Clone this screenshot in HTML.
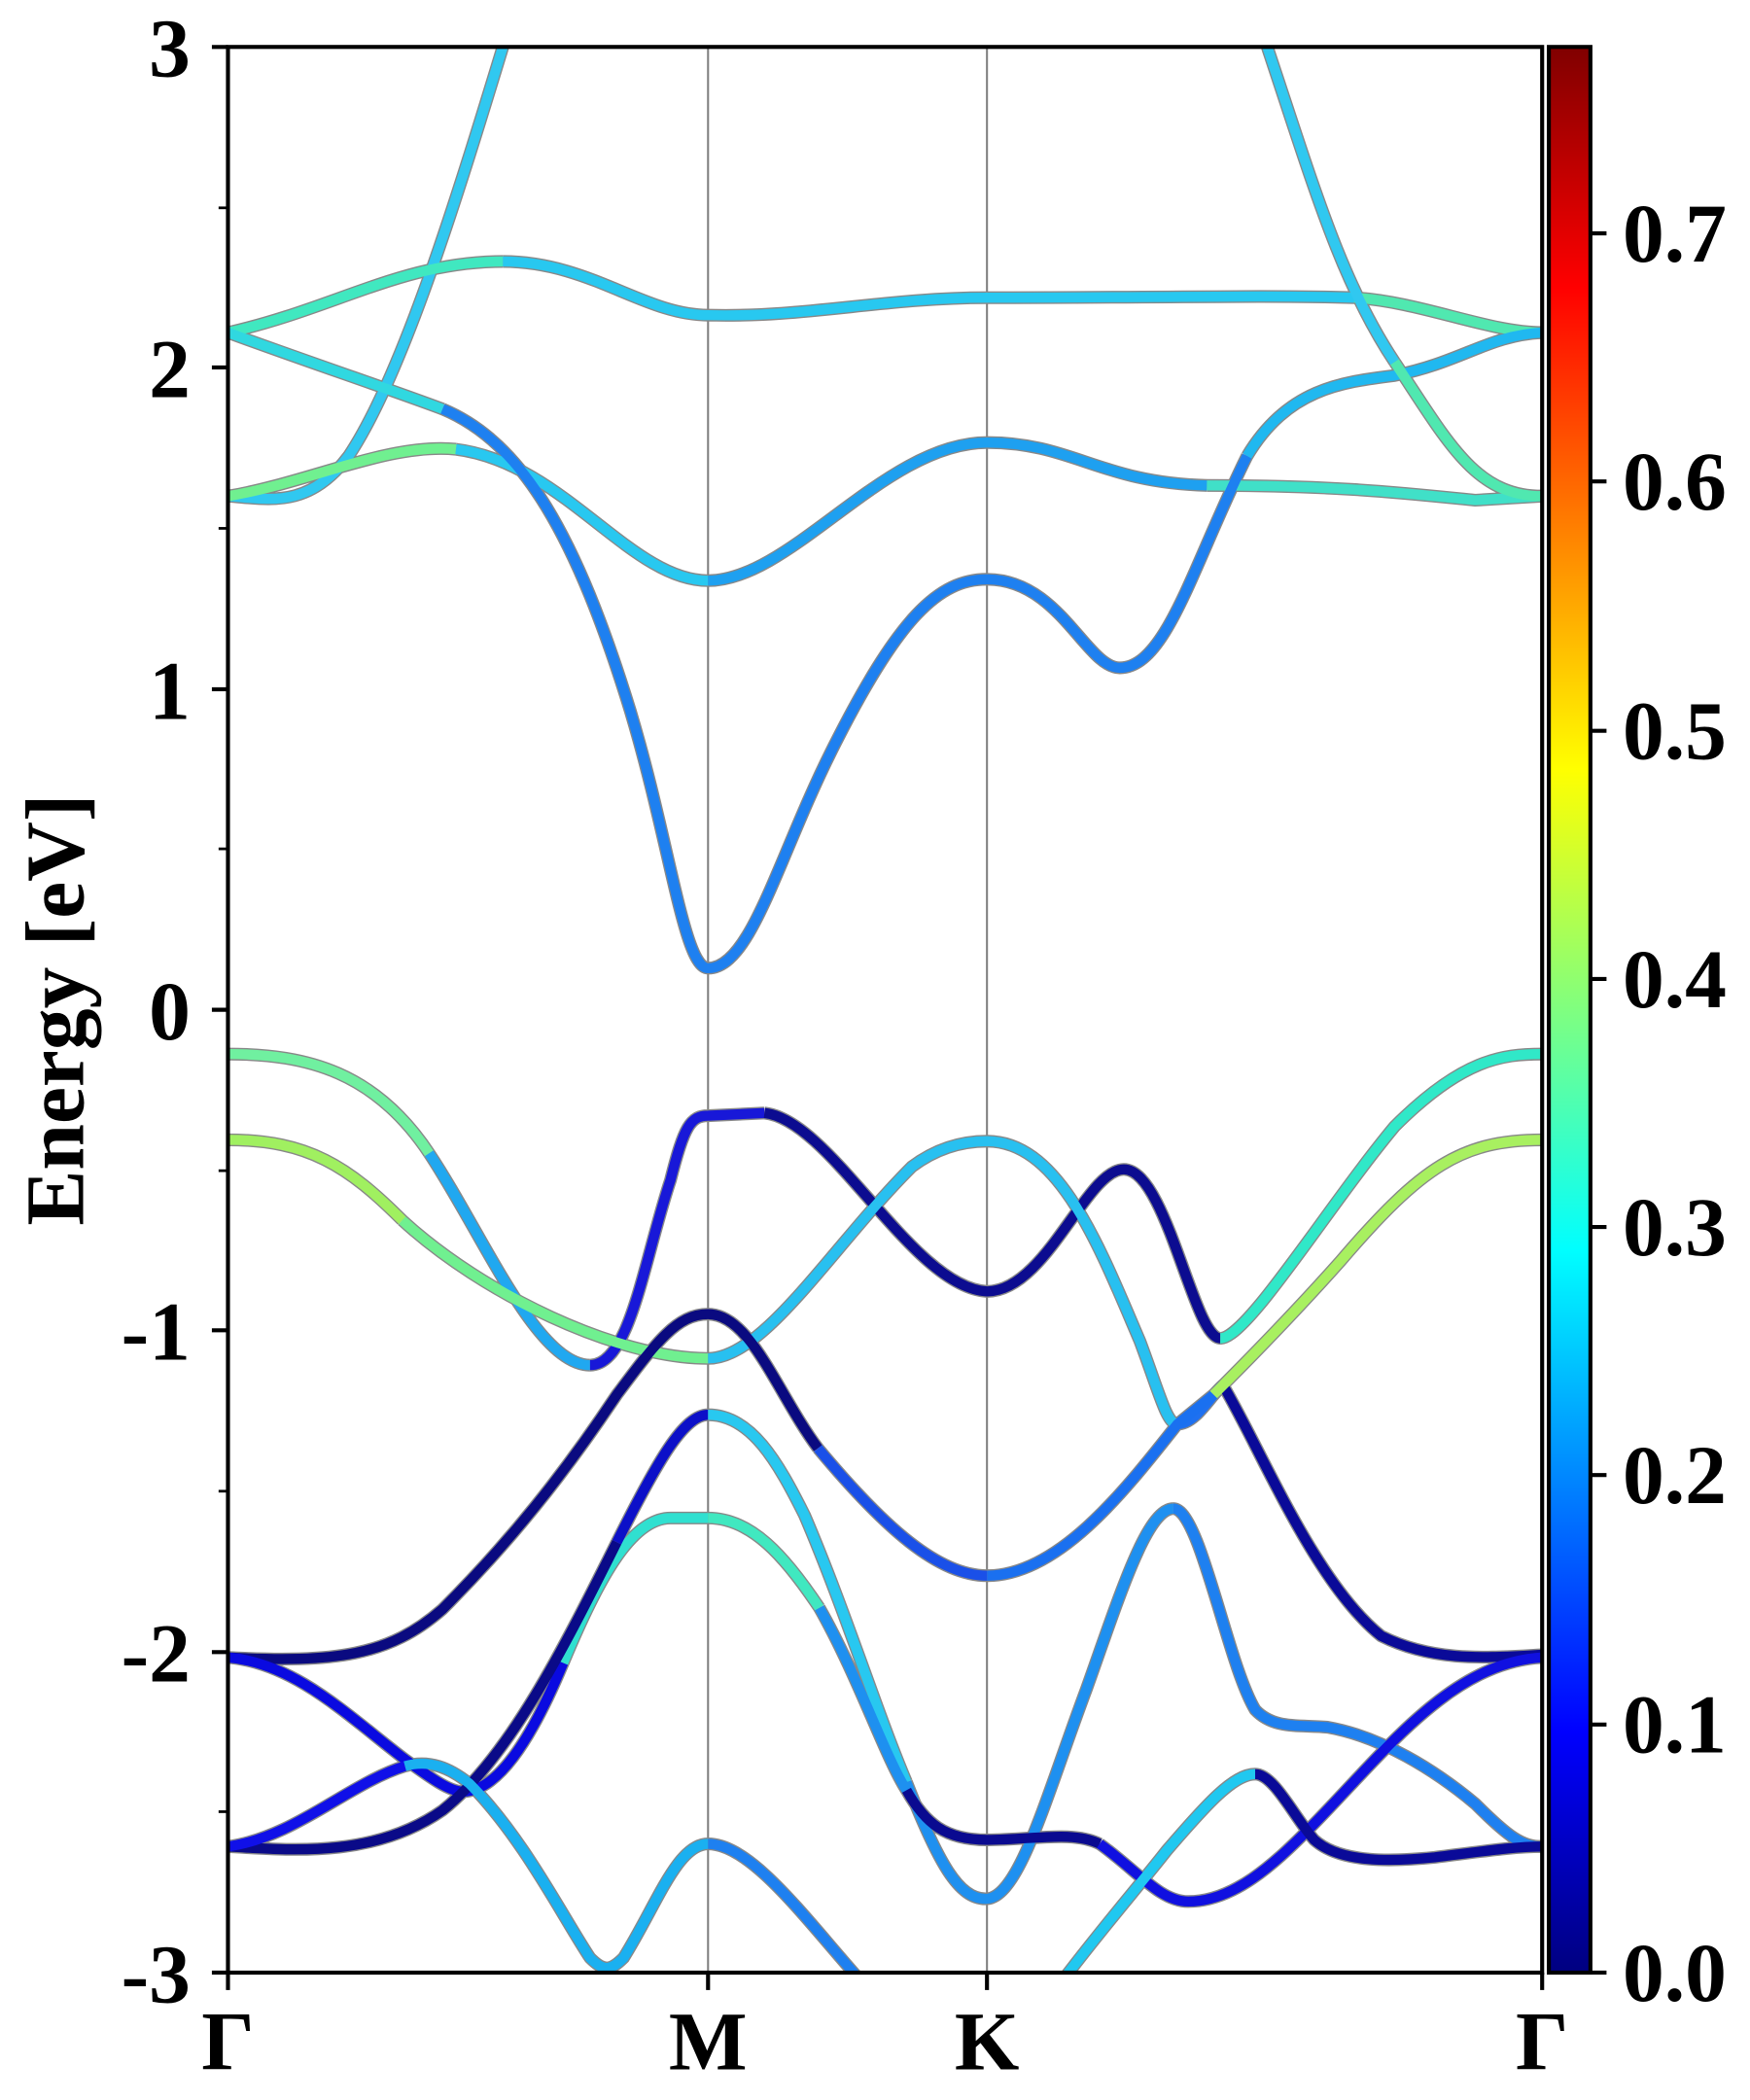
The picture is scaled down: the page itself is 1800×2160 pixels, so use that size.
<!DOCTYPE html>
<html><head><meta charset="utf-8"><style>
html,body{margin:0;padding:0;background:#fff}
svg{display:block}
text{font-family:"Liberation Serif","Times New Roman",Times,serif;font-weight:bold;fill:#000}
</style></head><body>
<svg width="1800" height="2160" viewBox="0 0 1305 1566" preserveAspectRatio="none" xmlns="http://www.w3.org/2000/svg" font-family="Liberation Serif, serif">
<defs>
<linearGradient id="jet" x1="0" y1="1" x2="0" y2="0">
<stop offset="0" stop-color="#000080"/>
<stop offset="0.11" stop-color="#0000f0"/>
<stop offset="0.125" stop-color="#0000ff"/>
<stop offset="0.375" stop-color="#00ffff"/>
<stop offset="0.625" stop-color="#ffff00"/>
<stop offset="0.875" stop-color="#ff0000"/>
<stop offset="1" stop-color="#800000"/>
</linearGradient>
<clipPath id="cp"><rect x="170" y="35" width="980" height="1436"/></clipPath>
</defs>
<rect width="1305" height="1566" fill="#fff"/>
<line x1="528" y1="35" x2="528" y2="1471" stroke="#808080" stroke-width="1.5"/>
<line x1="736" y1="35" x2="736" y2="1471" stroke="#808080" stroke-width="1.5"/>
<g id="bands" clip-path="url(#cp)" fill="none" stroke-width="7.5" stroke-linecap="butt" stroke-linejoin="round">
<path stroke="#30c8f0" d="M170,370 C200,372 230,380 260,340 C300,280 340,150 375,35 L380,20"/>
<path stroke="#70f090" d="M170,370 C230,360 290,330 340,335"/>
<path stroke="#28c8f0" d="M340,335 C420,345 470,433 528,433"/>
<path stroke="#1ea0f0" d="M528,433 C590,433 660,330 736,330 C800,330 820,360 900,362"/>
<path stroke="#40e0c8" d="M900,362 C1000,362 1050,368 1100,373 L1150,370"/>
<path stroke="#40e8c0" d="M170,248 C250,230 300,195 375,195"/>
<path stroke="#28c8f0" d="M375,195 C440,195 480,235 528,235 C600,237 660,222 736,222 C850,222 950,220 1010,222"/>
<path stroke="#50e8b0" d="M1010,222 C1060,225 1110,248 1150,248"/>
<path stroke="#30d8e0" d="M170,248 C230,270 290,290 330,305"/>
<path stroke="#1e80f0" d="M330,305 C390,330 430,400 470,530 C500,630 510,722 528,722 C560,722 580,640 620,560 C670,460 700,432 736,432 C790,432 810,498 835,498 C870,498 890,420 930,340"/>
<path stroke="#20b8f0" d="M930,340 C960,290 1000,285 1040,280 C1090,270 1110,250 1150,248"/>
<path stroke="#30c8f0" d="M945,35 C980,140 1000,210 1040,270"/>
<path stroke="#50e8b0" d="M1040,270 C1080,330 1100,370 1150,370"/>
<path stroke="#70f0a0" d="M170,786 C230,786 280,800 320,860"/>
<path stroke="#20a8f0" d="M320,860 C360,920 400,1018 440,1018"/>
<path stroke="#1818d8" d="M440,1018 C470,1018 480,940 500,880 C510,840 515,832 528,832 L570,830"/>
<path stroke="#0c0c90" d="M570,830 C620,835 680,960 736,963 C780,963 810,872 838,872 C870,872 890,998 910,998"/>
<path stroke="#30e8c8" d="M910,998 C930,998 990,900 1040,840 C1090,790 1120,786 1150,786"/>
<path stroke="#a0f060" d="M170,850 C230,850 260,870 300,910"/>
<path stroke="#70f090" d="M300,910 C360,965 460,1013 528,1013"/>
<path stroke="#28c0f0" d="M528,1013 C570,1013 620,930 680,870 C700,855 720,851 736,851 C790,851 820,930 850,1000 C865,1040 870,1062 878,1062"/>
<path stroke="#1e70f0" d="M878,1062 C892,1062 903,1040 912,1033"/>
<path stroke="#0a0a98" d="M912,1033 C940,1080 980,1180 1030,1220 C1070,1240 1110,1236 1150,1234"/>
<path stroke="#1a70f0" d="M736,1175 C790,1175 840,1110 878,1062 L905,1040"/>
<path stroke="#a8f060" d="M905,1040 C920,1025 960,985 1000,940 C1060,870 1090,850 1150,850"/>
<path stroke="#0a0a80" d="M170,1236 C250,1240 290,1235 330,1200 C380,1150 420,1100 460,1040 C490,1000 505,980 528,980 C560,980 580,1040 610,1080"/>
<path stroke="#1a50e8" d="M610,1080 C660,1140 700,1175 736,1175"/>
<path stroke="#0a0ae0" d="M170,1236 C220,1240 260,1280 302,1312 C320,1325 335,1336 345,1336 C370,1336 395,1300 420,1240"/>
<path stroke="#30e0d0" d="M420,1240 C445,1180 470,1132 500,1132 L528,1132"/>
<path stroke="#0a0a88" d="M170,1377 C220,1380 280,1385 330,1350 C380,1310 420,1230 460,1150"/>
<path stroke="#0c10c8" d="M460,1150 C490,1090 510,1055 528,1055"/>
<path stroke="#1010e8" d="M170,1377 C220,1370 260,1330 302,1317"/>
<path stroke="#1ab0f0" d="M302,1317 C320,1312 335,1318 350,1330 C390,1370 420,1430 440,1460 C450,1470 455,1470 465,1460 C490,1420 505,1375 528,1375"/>
<path stroke="#1e80f0" d="M528,1375 C560,1375 600,1430 640,1475"/>
<path stroke="#28c8f0" d="M528,1055 C560,1055 580,1090 600,1130 C630,1200 655,1280 676,1329"/>
<path stroke="#1e90f0" d="M676,1329 C700,1390 715,1416 735,1416 C760,1416 780,1340 810,1260 C835,1190 855,1125 875,1125"/>
<path stroke="#1e80f0" d="M875,1125 C895,1125 915,1240 936,1275 C950,1290 970,1286 990,1288 C1030,1295 1070,1320 1100,1345 C1125,1370 1135,1377 1150,1377"/>
<path stroke="#40e8c0" d="M528,1132 C560,1132 585,1160 611,1199"/>
<path stroke="#1e90f0" d="M611,1199 C640,1250 660,1310 676,1335"/>
<path stroke="#0a0a90" d="M676,1335 C690,1360 705,1372 736,1372 C770,1372 800,1365 820,1375"/>
<path stroke="#1010e0" d="M820,1375 C848,1395 865,1418 886,1418 C920,1418 950,1390 975,1365 C1030,1310 1080,1240 1150,1236"/>
<path stroke="#20c8f0" d="M790,1480 C820,1440 848,1408 870,1380 C900,1345 920,1323 936,1323"/>
<path stroke="#0a0a98" d="M936,1323 C950,1323 965,1355 980,1372 C1000,1390 1040,1388 1070,1385 C1110,1380 1130,1377 1150,1377"/>
</g>
<script>
(function(){var g=document.getElementById('bands');var ps=Array.prototype.slice.call(g.querySelectorAll('path'));
ps.forEach(function(p){var c=p.cloneNode();c.setAttribute('stroke','#888');c.setAttribute('stroke-width','9.5');g.insertBefore(c,g.firstChild);});})();
</script>
<rect x="170" y="35" width="980" height="1436" fill="none" stroke="#000" stroke-width="3"/>
<g stroke="#000" stroke-width="3">
<line x1="158" y1="35" x2="170" y2="35"/><line x1="158" y1="274" x2="170" y2="274"/>
<line x1="158" y1="514" x2="170" y2="514"/><line x1="158" y1="753" x2="170" y2="753"/>
<line x1="158" y1="992" x2="170" y2="992"/><line x1="158" y1="1232" x2="170" y2="1232"/>
<line x1="158" y1="1471" x2="170" y2="1471"/>
</g>
<g stroke="#000" stroke-width="2">
<line x1="163" y1="155" x2="170" y2="155"/><line x1="163" y1="394" x2="170" y2="394"/>
<line x1="163" y1="633" x2="170" y2="633"/><line x1="163" y1="873" x2="170" y2="873"/>
<line x1="163" y1="1112" x2="170" y2="1112"/><line x1="163" y1="1351" x2="170" y2="1351"/>
</g>
<g stroke="#000" stroke-width="3">
<line x1="170" y1="1471" x2="170" y2="1484"/><line x1="528" y1="1471" x2="528" y2="1484"/>
<line x1="736" y1="1471" x2="736" y2="1484"/><line x1="1150" y1="1471" x2="1150" y2="1484"/>
</g>
<g font-size="62" text-anchor="end">
<text x="142" y="57">3</text><text x="142" y="296">2</text><text x="142" y="536">1</text>
<text x="142" y="775">0</text><text x="142" y="1014">-1</text><text x="142" y="1254">-2</text>
<text x="142" y="1493">-3</text>
</g>
<g font-size="62" text-anchor="middle">
<text x="170" y="1543">Γ</text><text x="528" y="1543">M</text><text x="736" y="1543">K</text><text x="1150" y="1543">Γ</text>
</g>
<text transform="translate(62,753) rotate(-90)" font-size="62" text-anchor="middle">Energy [eV]</text>
<rect x="1155" y="35" width="31" height="1436" fill="url(#jet)" stroke="#000" stroke-width="3"/>
<g stroke="#000" stroke-width="3">
<line x1="1186" y1="1471" x2="1198" y2="1471"/><line x1="1186" y1="1286" x2="1198" y2="1286"/>
<line x1="1186" y1="1100" x2="1198" y2="1100"/><line x1="1186" y1="915" x2="1198" y2="915"/>
<line x1="1186" y1="730" x2="1198" y2="730"/><line x1="1186" y1="545" x2="1198" y2="545"/>
<line x1="1186" y1="359" x2="1198" y2="359"/><line x1="1186" y1="174" x2="1198" y2="174"/>
</g>
<g font-size="62" text-anchor="start">
<text x="1210" y="1492">0.0</text><text x="1210" y="1307">0.1</text><text x="1210" y="1121">0.2</text>
<text x="1210" y="936">0.3</text><text x="1210" y="751">0.4</text><text x="1210" y="566">0.5</text>
<text x="1210" y="380">0.6</text><text x="1210" y="195">0.7</text>
</g>
</svg>
</body></html>
